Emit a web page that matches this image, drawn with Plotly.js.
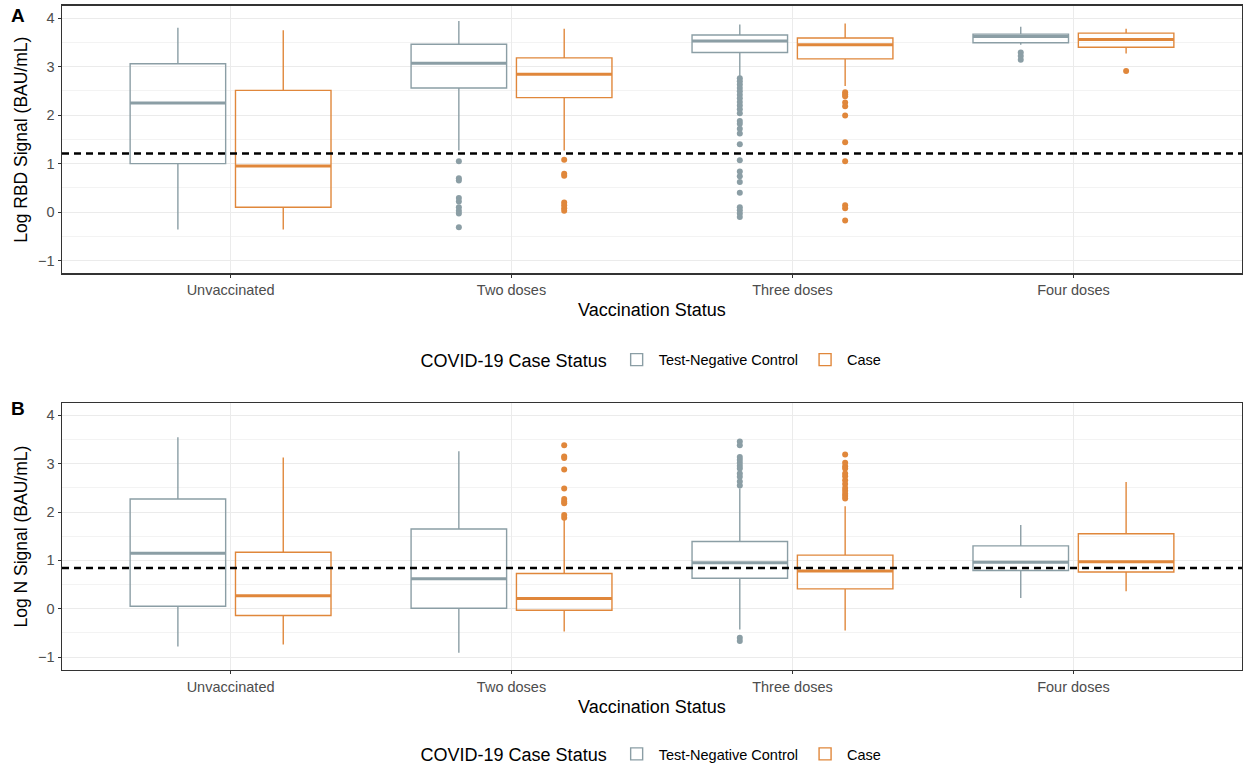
<!DOCTYPE html>
<html>
<head>
<meta charset="utf-8">
<script src="https://cdn.plot.ly/plotly-3.0.1.min.js"></script>
<style>
html,body{margin:0;padding:0;background:#fff;}
#chart{width:1243px;height:772px;}
</style>
</head>
<body>
<div id="chart"></div>
<script>
// ---------- DATA ----------
const categories = ["Unvaccinated", "Two doses", "Three doses", "Four doses"];
const groups = ["Test-Negative Control", "Case"];

// Panel A: Log RBD signal
const rbdCtrlLow = [-0.36, 1.27, 2.79, 3.45];
const rbdCtrlQ1  = [1.00, 2.56, 3.29, 3.49];
const rbdCtrlMed = [2.25, 3.07, 3.53, 3.62];
const rbdCtrlQ3  = [3.06, 3.46, 3.65, 3.67];
const rbdCtrlHigh= [3.80, 3.94, 3.87, 3.82];
const rbdCtrlOut = [
  [],
  [1.05, 0.70, 0.65, 0.29, 0.22, 0.10, 0.03, -0.03, -0.31],
  [2.76, 2.70, 2.63, 2.56, 2.49, 2.42, 2.35, 2.27, 2.20, 2.12, 2.04, 1.88, 1.82, 1.72, 1.62, 1.40, 1.07, 0.84, 0.74, 0.62, 0.40, 0.10, 0.04, -0.03, -0.10],
  [3.29, 3.22, 3.14]
];

const rbdCaseLow = [-0.36, 1.27, 2.60, 3.27];
const rbdCaseQ1  = [0.10, 2.36, 3.16, 3.40];
const rbdCaseMed = [0.95, 2.84, 3.45, 3.56];
const rbdCaseQ3  = [2.51, 3.18, 3.59, 3.69];
const rbdCaseHigh= [3.75, 3.78, 3.89, 3.78];
const rbdCaseOut = [
  [],
  [1.08, 0.79, 0.75, 0.20, 0.14, 0.08, 0.03],
  [2.47, 2.43, 2.39, 2.26, 2.18, 1.99, 1.44, 1.05, 0.14, 0.08, -0.17],
  [2.91]
];

// Panel B: Log N signal
const nCtrlLow = [-0.78, -0.91, -0.43, 0.22];
const nCtrlQ1  = [0.05, 0.01, 0.63, 0.79];
const nCtrlMed = [1.15, 0.62, 0.95, 0.96];
const nCtrlQ3  = [2.27, 1.65, 1.39, 1.30];
const nCtrlHigh= [3.55, 3.26, 2.49, 1.73];
const nCtrlOut = [
  [],
  [],
  [3.46, 3.38, 3.14, 3.08, 3.02, 2.96, 2.90, 2.80, 2.73, 2.63, 2.55, -0.60, -0.67],
  []
];

const nCaseLow = [-0.74, -0.47, -0.45, 0.36];
const nCaseQ1  = [-0.14, -0.03, 0.41, 0.76];
const nCaseMed = [0.27, 0.21, 0.78, 0.97];
const nCaseQ3  = [1.17, 0.73, 1.11, 1.55];
const nCaseHigh= [3.13, 1.85, 2.12, 2.62];
const nCaseOut = [
  [],
  [3.38, 3.15, 3.12, 2.88, 2.49, 2.27, 2.22, 2.18, 1.94, 1.88],
  [3.19, 3.02, 2.95, 2.90, 2.80, 2.74, 2.66, 2.58, 2.50, 2.44, 2.38, 2.33, 2.28],
  []
];

const rbdThreshold = 1.21;
const nThreshold = 0.845;

// ---------- STYLE ----------
const colors = ["#8b9ea5", "#e0873b"];
const dodge = [-0.1875, 0.1875];
const boxW = 0.34;
const FONT = "Liberation Sans, Arial, sans-serif";

function panelTraces(stats, xa, ya, legendId) {
  const traces = [];
  stats.forEach((s, g) => {
    const xs = categories.map((c, i) => i + dodge[g]);
    traces.push({
      type: "box",
      name: groups[g],
      x: xs,
      q1: s.q1, median: s.med, q3: s.q3,
      lowerfence: s.low, upperfence: s.high,
      width: boxW,
      whiskerwidth: 0,
      fillcolor: "rgba(255,255,255,0)",
      line: {color: colors[g], width: 1.4},
      xaxis: xa, yaxis: ya,
      legend: legendId,
      legendgroup: legendId + g,
      hoverinfo: "y"
    });
    // thicker median lines
    const mx = [], my = [];
    s.med.forEach((m, i) => {
      mx.push(xs[i] - boxW / 2, xs[i] + boxW / 2, null);
      my.push(m, m, null);
    });
    traces.push({
      type: "scatter", mode: "lines", x: mx, y: my,
      line: {color: colors[g], width: 3},
      xaxis: xa, yaxis: ya, showlegend: false, hoverinfo: "skip"
    });
    // outliers
    const ox = [], oy = [];
    s.out.forEach((arr, i) => arr.forEach(v => { ox.push(xs[i]); oy.push(v); }));
    traces.push({
      type: "scatter", mode: "markers", x: ox, y: oy,
      marker: {color: colors[g], size: 6},
      xaxis: xa, yaxis: ya, showlegend: false
    });
  });
  return traces;
}

const data = [].concat(
  panelTraces([
    {low: rbdCtrlLow, q1: rbdCtrlQ1, med: rbdCtrlMed, q3: rbdCtrlQ3, high: rbdCtrlHigh, out: rbdCtrlOut},
    {low: rbdCaseLow, q1: rbdCaseQ1, med: rbdCaseMed, q3: rbdCaseQ3, high: rbdCaseHigh, out: rbdCaseOut}
  ], "x", "y", "legend"),
  panelTraces([
    {low: nCtrlLow, q1: nCtrlQ1, med: nCtrlMed, q3: nCtrlQ3, high: nCtrlHigh, out: nCtrlOut},
    {low: nCaseLow, q1: nCaseQ1, med: nCaseMed, q3: nCaseQ3, high: nCaseHigh, out: nCaseOut}
  ], "x2", "y2", "legend2")
);

const W = 1243, H = 772;
const xDom = [62 / W, 1242 / W];
const yDomA = [1 - 276 / H, 1 - 6 / H];
const yDomB = [1 - 676 / H, 1 - 407 / H];

function xAxis(domain, anchor) {
  return {
    domain: domain, anchor: anchor,
    range: [-0.6, categories.length - 0.4],
    tickvals: categories.map((c, i) => i),
    ticktext: categories,
    showgrid: true, gridcolor: "#ebebeb", gridwidth: 1,
    zeroline: false,
    showline: true, mirror: true, linecolor: "#333333", linewidth: 1.5,
    ticks: "outside", ticklen: 3, tickcolor: "#333333",
    tickfont: {family: FONT, size: 14.5, color: "#4d4d4d"},
    title: {text: "Vaccination Status", font: {family: FONT, size: 18, color: "#000"}, standoff: 6}
  };
}
function yAxis(domain, anchor, title) {
  return {
    domain: domain, anchor: anchor,
    range: [-1.265, 4.25],
    tickvals: [-1, 0, 1, 2, 3, 4],
    showgrid: true, gridcolor: "#ebebeb", gridwidth: 1,
    minor: {dtick: 0.5, tick0: 0.5, showgrid: true, gridcolor: "#f3f3f3", gridwidth: 1, ticks: ""},
    zeroline: false,
    showline: true, mirror: true, linecolor: "#333333", linewidth: 1.5,
    ticks: "outside", ticklen: 3, tickcolor: "#333333",
    tickfont: {family: FONT, size: 14.5, color: "#4d4d4d"},
    title: {text: title, font: {family: FONT, size: 17.5, color: "#000"}, standoff: 6}
  };
}

function legendCfg(yPix) {
  return {
    orientation: "h",
    x: 0.525, xanchor: "center",
    y: 1 - yPix / H, yanchor: "middle",
    title: {text: "COVID-19 Case Status", side: "left", font: {family: FONT, size: 18, color: "#000"}},
    font: {family: FONT, size: 14.5, color: "#000"},
    bgcolor: "rgba(0,0,0,0)",
    itemwidth: 34
  };
}

const layout = {
  width: W, height: H,
  margin: {l: 0, r: 0, t: 0, b: 0},
  paper_bgcolor: "#ffffff",
  plot_bgcolor: "#ffffff",
  font: {family: FONT},
  xaxis: xAxis(xDom, "y"),
  yaxis: yAxis(yDomA, "x", "Log RBD Signal (BAU/mL)"),
  xaxis2: xAxis(xDom, "y2"),
  yaxis2: yAxis(yDomB, "x2", "Log N Signal (BAU/mL)"),
  legend: legendCfg(364),
  legend2: legendCfg(762),
  shapes: [
    {type: "line", xref: "x domain", x0: 0, x1: 1, yref: "y", y0: rbdThreshold, y1: rbdThreshold,
     line: {color: "#000", width: 2.5, dash: "7px,5px"}},
    {type: "line", xref: "x2 domain", x0: 0, x1: 1, yref: "y2", y0: nThreshold, y1: nThreshold,
     line: {color: "#000", width: 2.5, dash: "7px,5px"}}
  ],
  annotations: [
    {text: "<b>A</b>", xref: "paper", yref: "paper", x: 9 / W, y: 1 - 16 / H, xanchor: "left", yanchor: "middle",
     showarrow: false, font: {family: FONT, size: 19, color: "#000"}},
    {text: "<b>B</b>", xref: "paper", yref: "paper", x: 9 / W, y: 1 - 412 / H, xanchor: "left", yanchor: "middle",
     showarrow: false, font: {family: FONT, size: 19, color: "#000"}}
  ]
};

Plotly.newPlot("chart", data, layout, {displayModeBar: false, staticPlot: true});
</script>
</body>
</html>
